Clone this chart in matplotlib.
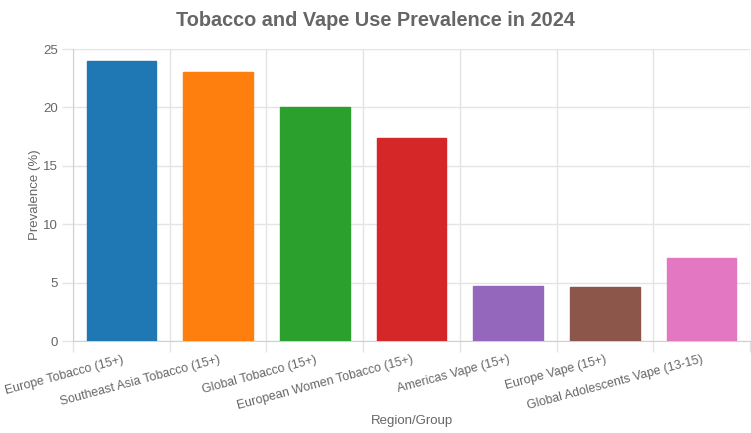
import matplotlib.pyplot as plt

# data
groups = ['Europe Tobacco (15+)', 'Southeast Asia Tobacco (15+)', 'Global Tobacco (15+)',
          'European Women Tobacco (15+)', 'Americas Vape (15+)', 'Europe Vape (15+)',
          'Global Adolescents Vape (13-15)']
prevalence = [24, 23, 20, 17.4, 4.7, 4.6, 7.1]
colours = ['#1f77b4', '#ff7f0e', '#2ca02c', '#d62728', '#9467bd', '#8c564b', '#e377c2']

plt.rcParams['font.family'] = ['Liberation Sans', 'DejaVu Sans']
grid = '#e4e4e4'
txt = '#666666'

fig = plt.figure(figsize=(7.51, 4.33), dpi=100)
ax = fig.add_axes([73/751, 92/433, 677/751, 292/433])

x = list(range(len(groups)))
ax.bar(x, prevalence, width=0.72, color=colours, edgecolor=colours, linewidth=1, zorder=3)

ax.set_xlim(-0.5, len(groups) - 0.5)
ax.set_ylim(0, 25)
ax.set_yticks([0, 5, 10, 15, 20, 25])

# vertical grid at category boundaries
ax.set_xticks([i - 0.5 for i in range(len(groups) + 1)], minor=True)
ax.set_xticks(x)
ax.set_xticklabels(groups, rotation=15, ha='right', va='top', rotation_mode='anchor')
ax.grid(True, which='minor', axis='x', color=grid, linewidth=1)
ax.grid(True, which='major', axis='y', color=grid, linewidth=1)
ax.tick_params(axis='x', which='major', length=0, pad=9, labelsize=8.9, labelcolor=txt)
ax.tick_params(axis='x', which='minor', length=8, color=grid, width=1)
ax.tick_params(axis='y', length=8, color=grid, width=1, pad=3, labelsize=9.5, labelcolor=txt)

for side in ['top', 'right']:
    ax.spines[side].set_visible(False)
for side in ['left', 'bottom']:
    ax.spines[side].set_color('#d0d0d0')

ax.set_axisbelow(True)
ax.set_xlabel('Region/Group', fontsize=9.5, color=txt)
ax.xaxis.set_label_coords(0.5, -0.255)
ax.set_ylabel('Prevalence (%)', fontsize=9.5, color=txt)
ax.yaxis.set_label_coords(-0.047, 0.5)
fig.suptitle('Tobacco and Vape Use Prevalence in 2024', fontsize=14.3, fontweight='bold',
             color=txt, y=0.975)

fig.savefig('out.png', dpi=100)
